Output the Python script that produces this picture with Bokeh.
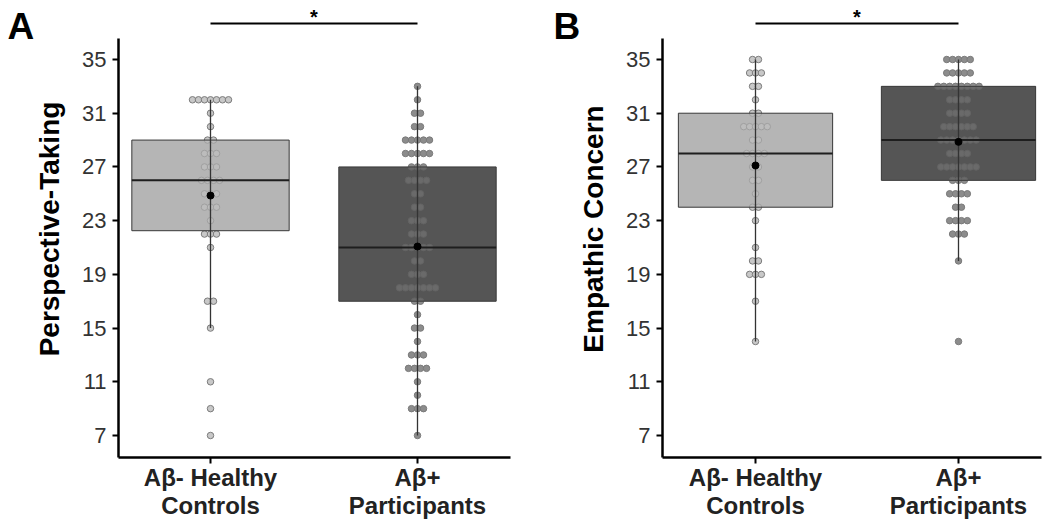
import numpy as np
from bokeh.plotting import figure
from bokeh.layouts import row
from bokeh.models import Range1d, FixedTicker, Label
from bokeh.core.properties import value
from bokeh.embed import file_html
from bokeh.resources import INLINE

groups = ["Aβ- Healthy\nControls", "Aβ+\nParticipants"]
y_ticks = [7, 11, 15, 19, 23, 27, 31, 35]

# score values and number of participants at each value (read from the dot stacks)
pt_ctrl_vals = [32, 31, 30, 29, 28, 27, 26, 25, 24, 23, 22, 21, 17, 15, 11, 9, 7]
pt_ctrl_cnts = [7, 1, 1, 2, 3, 3, 4, 3, 3, 1, 3, 1, 2, 1, 1, 1, 1]
pt_pos_vals = [33, 32, 31, 30, 29, 28, 27, 26, 25, 24, 23, 22, 21, 20, 19, 18, 17, 16, 15, 14, 13, 12, 11, 10, 9, 7]
pt_pos_cnts = [1, 1, 2, 2, 5, 5, 3, 4, 2, 2, 3, 3, 5, 2, 3, 7, 2, 1, 2, 1, 3, 4, 1, 1, 3, 1]
ec_ctrl_vals = [35, 34, 33, 32, 31, 30, 29, 28, 27, 26, 25, 24, 23, 21, 20, 19, 17, 14]
ec_ctrl_cnts = [2, 3, 2, 1, 2, 5, 2, 4, 2, 2, 1, 2, 1, 1, 2, 3, 1, 1]
ec_pos_vals = [35, 34, 33, 32, 31, 30, 29, 28, 27, 26, 25, 24, 23, 22, 20, 14]
ec_pos_cnts = [5, 5, 8, 4, 4, 6, 7, 4, 7, 3, 4, 2, 4, 3, 1, 1]

FONT = "Liberation Sans"
BOX_FILL = ["#b5b5b5", "#555555"]
DOT_FILL = ["#c8c8c8", "#8c8c8c"]
DOT_LINE = ["#7c7c7c", "#7a7a7a"]

PX = 13.4286          # pixels per score unit
Y_LO, Y_HI = 5.362, 36.56   # visible axis extent
Y_END = 35 + 59 / PX
SIG_Y = 37.68
TOP_Y = 38.95


def expand(vals, cnts):
    out = []
    for v, n in zip(vals, cnts):
        out += [v] * n
    return np.array(out, dtype=float)


def dots(center, vals, cnts, step):
    xs, ys = [], []
    for v, n in zip(vals, cnts):
        for i in range(n):
            xs.append(center + (i - (n - 1) / 2) * step)
            ys.append(v)
    return xs, ys


def panel(series, ylabel, letter, width, left_border, right_border, x_start, x_end, letter_x):
    p = figure(width=width, height=524, x_range=Range1d(x_start, x_end),
               y_range=Range1d(Y_LO, Y_END), output_backend="svg",
               toolbar_location=None, min_border_left=left_border,
               min_border_right=right_border, min_border_top=0, min_border_bottom=67)
    p.outline_line_color = None
    p.xgrid.visible = False
    p.ygrid.visible = False
    p.background_fill_color = "white"
    p.border_fill_color = "white"

    bw = 0.76
    step = 0.029
    for k, (vals, cnts) in enumerate(series):
        c = k + 1
        data = expand(vals, cnts)
        q1, med, q3 = np.percentile(data, [25, 50, 75])
        iqr = q3 - q1
        lo = data[data >= q1 - 1.5 * iqr].min()
        hi = data[data <= q3 + 1.5 * iqr].max()
        xs, ys = dots(c, vals, cnts, step)
        p.quad(left=[c - bw / 2], right=[c + bw / 2], bottom=[q1], top=[q3],
               fill_color=BOX_FILL[k], line_color=None)
        p.scatter(xs, ys, size=6.5, fill_color=DOT_FILL[k], line_color=DOT_LINE[k], line_width=1)
        p.quad(left=[c - bw / 2], right=[c + bw / 2], bottom=[q1], top=[q3],
               fill_color=BOX_FILL[k], fill_alpha=0.62, line_color="#3a3a3a", line_width=1)
        p.segment(x0=[c], x1=[c], y0=[lo], y1=[hi], line_color="#333333", line_width=1.3)
        p.segment(x0=[c - bw / 2], x1=[c + bw / 2], y0=[med], y1=[med], line_color="#1e1e1e", line_width=2)
        p.scatter([c], [data.mean()], size=7, fill_color="black", line_color="black")

    # significance bracket
    p.segment(x0=[1], x1=[2], y0=[SIG_Y], y1=[SIG_Y], line_color="black", line_width=2)
    p.text(x=[1.5], y=[TOP_Y], text=["*"], text_align="center", text_baseline="top",
           text_font=value(FONT), text_font_size="20px", text_font_style="bold", text_color="black")

    p.xaxis.ticker = FixedTicker(ticks=[1, 2])
    p.xaxis.major_label_overrides = {1: groups[0], 2: groups[1]}
    p.yaxis.bounds = (Y_LO, Y_HI)
    p.yaxis.ticker = FixedTicker(ticks=y_ticks)
    for ax in (p.xaxis[0], p.yaxis[0]):
        ax.axis_line_width = 2.5
        ax.axis_line_color = "black"
        ax.major_tick_line_width = 2
        ax.major_tick_line_color = "black"
        ax.major_tick_out = 6
        ax.major_tick_in = 0
        ax.minor_tick_out = 0
        ax.minor_tick_in = 0
    p.yaxis.major_label_text_font = FONT
    p.yaxis.major_label_text_font_size = "22px"
    p.yaxis.major_label_text_color = "#333333"
    p.yaxis.major_label_standoff = 6
    p.yaxis.axis_label = ylabel
    p.yaxis.axis_label_text_font = FONT
    p.yaxis.axis_label_text_font_size = "28px"
    p.yaxis.axis_label_text_font_style = "bold"
    p.yaxis.axis_label_text_color = "black"
    p.yaxis.axis_label_standoff = 14
    p.xaxis.major_label_text_font = FONT
    p.xaxis.major_label_text_font_size = "24px"
    p.xaxis.major_label_text_font_style = "bold"
    p.xaxis.major_label_text_color = "#222222"
    p.xaxis.major_label_text_line_height = 1.05
    p.xaxis.major_label_standoff = 0

    p.add_layout(Label(x=letter_x, y=TOP_Y, text=letter, text_align="left", text_baseline="top",
                       text_font=FONT, text_font_size="37px", text_font_style="bold",
                       text_color="black"), "left")
    return p


pa = panel([(pt_ctrl_vals, pt_ctrl_cnts), (pt_pos_vals, pt_pos_cnts)],
           "Perspective-Taking", "A", 540, 118, 30, 1 - 92 / 207, 2 + 93 / 207, 1 - 203 / 207)
pb = panel([(ec_ctrl_vals, ec_ctrl_cnts), (ec_pos_vals, ec_pos_cnts)],
           "Empathic Concern", "B", 503, 122, 2, 1 - 93 / 203, 2 + 83 / 203, 1 - 202 / 203)

layout = row(pa, pb, spacing=0)
open("out.html", "w").write(file_html(layout, INLINE))
